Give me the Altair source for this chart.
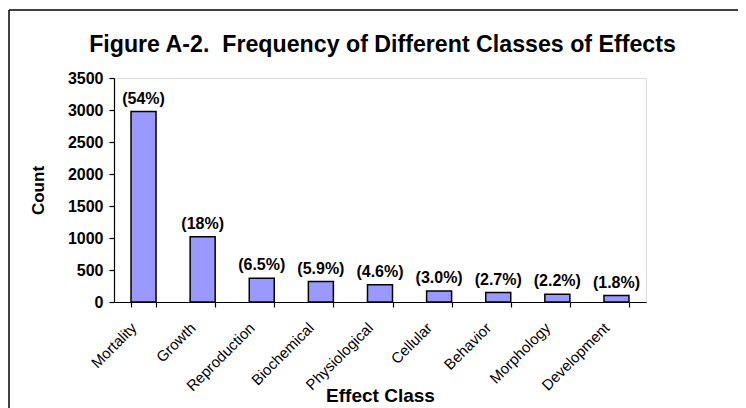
import altair as alt
import pandas as pd

categories = ["Mortality", "Growth", "Reproduction", "Biochemical", "Physiological",
              "Cellular", "Behavior", "Morphology", "Development"]
counts = [2975, 1020, 370, 320, 268, 170, 148, 122, 100]
pct_labels = ["(54%)", "(18%)", "(6.5%)", "(5.9%)", "(4.6%)", "(3.0%)", "(2.7%)", "(2.2%)", "(1.8%)"]
y_ticks = [0, 500, 1000, 1500, 2000, 2500, 3000, 3500]
title_text = ["Figure A-2.\u00a0 Frequency of Different Classes of Effects"]

df = pd.DataFrame({"cat": categories, "count": counts, "pct": pct_labels})

FONT = "Liberation Sans"

x_enc = alt.X("cat:N", sort=categories,
              scale=alt.Scale(paddingInner=0.577, paddingOuter=0.288),
              axis=alt.Axis(title="Effect Class", labelAngle=-45, labelFont=FONT,
                            labelFontSize=15, labelColor="black", tickBand="extent",
                            labelAlign="right", labelBaseline="top",
                            domainColor="black", tickColor="black", tickSize=5,
                            domainWidth=1.2, tickWidth=1.2,
                            labelOffset=-15, labelPadding=13,
                            titleFont=FONT, titleFontSize=19, titleFontWeight="bold",
                            titleColor="black", titleY=99, titleBaseline="alphabetic"))
y_enc = alt.Y("count:Q", scale=alt.Scale(domain=[0, 3500], nice=False),
              axis=alt.Axis(title="Count", values=y_ticks, format="d", grid=False,
                            labelFont=FONT, labelFontSize=16, labelFontWeight="bold",
                            labelColor="black", labelPadding=6,
                            domainColor="black", tickColor="black", tickSize=5,
                            domainWidth=1.2, tickWidth=1.2,
                            titleFont=FONT, titleFontSize=17, titleFontWeight="bold",
                            titleColor="black", titleX=-76, titleBaseline="middle",
                            titleAngle=270))

base = alt.Chart(df).encode(x=x_enc, y=y_enc)

bars = base.mark_bar(color="#9999FF", stroke="black", strokeWidth=1.5)

labels = base.mark_text(font=FONT, fontSize=16, fontWeight="bold",
                        baseline="alphabetic", dy=-8, color="black").encode(text="pct:N")

title = alt.Chart(pd.DataFrame({"t": title_text})).mark_text(
    font=FONT, fontSize=23.2, fontWeight="bold", color="black",
    baseline="alphabetic", align="center", clip=False).encode(
    text="t:N", x=alt.value(268.5), y=alt.value(-26))

one = pd.DataFrame({"a": [0]})
frame_top = alt.Chart(one).mark_rule(color="black", strokeWidth=1.5, clip=False).encode(
    x=alt.value(-105), x2=alt.value(700), y=alt.value(-68))
frame_left = alt.Chart(one).mark_rule(color="black", strokeWidth=1.5, clip=False).encode(
    x=alt.value(-105), y=alt.value(-68), y2=alt.value(400))

chart = alt.layer(frame_top, frame_left, bars, labels, title).properties(
    width=532, height=224,
    autosize=alt.AutoSizeParams(type="none"),
    padding={"left": 106, "top": 70, "right": 92, "bottom": 106},
).configure_view(stroke="#888888", strokeWidth=1.5).configure(background="white")

chart.save("out.html", embed_options={"renderer": "svg", "actions": False})
